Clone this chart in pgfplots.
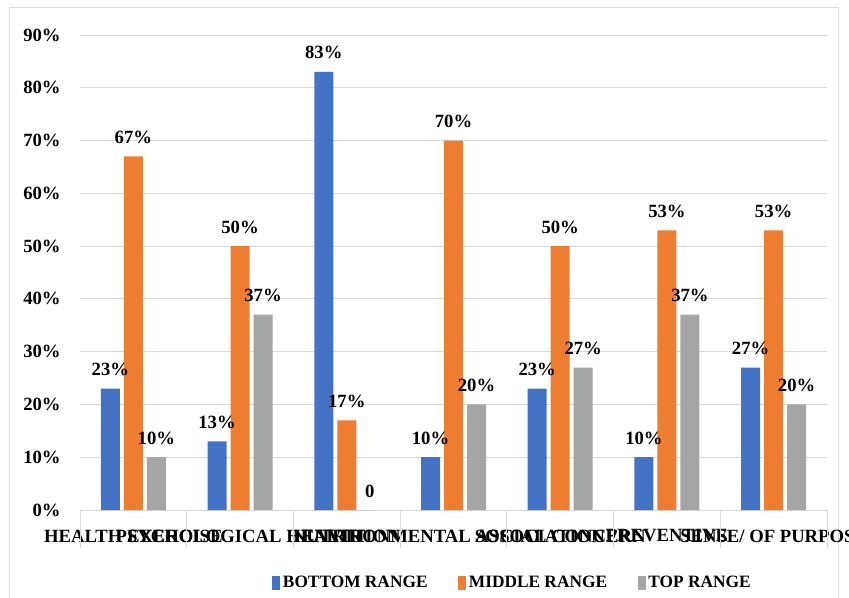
\documentclass[border=0pt]{standalone}
\usepackage{pgfplots}
\pgfplotsset{compat=1.18}
\usepackage{fontspec}
\setmainfont{Liberation Serif}
\definecolor{cblue}{HTML}{4472C4}
\definecolor{corange}{HTML}{ED7D31}
\definecolor{cgray}{HTML}{A5A5A5}
\definecolor{cgrid}{HTML}{D9D9D9}
\definecolor{cframe}{HTML}{D9D9D9}
\begin{document}
\begin{tikzpicture}
\path[use as bounding box] (0,0) rectangle (636.75pt,447.75pt);
\draw[cframe, line width=0.75pt] (6.75pt,-5pt) rectangle (628.5pt,441.75pt);
\begin{axis}[
  at={(60pt,65.25pt)}, anchor=south west,
  scale only axis, width=560.25pt, height=356.25pt,
  xmin=-0.5, xmax=6.5, ymin=0, ymax=90,
  ybar=3pt, bar width=14.25pt,
  separate axis lines,
  axis x line*=bottom, axis y line*=left,
  x axis line style={draw=cgrid, line width=0.75pt},
  y axis line style={draw=none},
  ymajorgrids, grid style={draw=cgrid, line width=0.75pt},
  ytick={0,10,...,90},
  yticklabels={0\%,10\%,20\%,30\%,40\%,50\%,60\%,70\%,80\%,90\%},
  ytick style={draw=none},
  yticklabel style={font=\bfseries\fontsize{14}{16}\selectfont, xshift=-11pt},
  xtick={0,...,6},
  xtick style={draw=none},
  xticklabels={HEALTH EXERCISE, PSYCHOLOGICAL HEALTH, NUTRITION, ENVIRONMENTAL ASSOCIATION, SOCIAL CONCERN, PREVENTIVE, SENSE/ OF PURPOSE},
  xticklabel style={font=\bfseries\fontsize{14}{16}\selectfont, yshift=-7pt},
  extra x ticks={-0.5,0.5,...,6.5},
  extra x tick labels={},
  extra x tick style={major tick length=28.5pt, tick align=outside, xtick style={draw=cgrid, line width=0.75pt}, grid=none},
  point meta=explicit symbolic,
  nodes near coords,
  every node near coord/.append style={font=\bfseries\fontsize{14}{16}\selectfont, black, yshift=6pt},
  legend style={at={(0.2517,-0.1537)}, anchor=west, draw=none, fill=none,
    legend columns=3, font=\bfseries\fontsize{13}{15}\selectfont,
    /tikz/every even column/.append style={column sep=21pt}},
  legend image code/.code={\fill[#1] (0pt,-5pt) rectangle (6pt,5pt);},
]
\addplot[draw=none, fill=cblue] coordinates {(0,23) [23\%] (1,13) [13\%] (2,83) [83\%] (3,10) [10\%] (4,23) [23\%] (5,10) [10\%] (6,27) [27\%]};
\addplot[draw=none, fill=corange] coordinates {(0,67) [67\%] (1,50) [50\%] (2,17) [17\%] (3,70) [70\%] (4,50) [50\%] (5,53) [53\%] (6,53) [53\%]};
\addplot[draw=none, fill=cgray] coordinates {(0,10) [10\%] (1,37) [37\%] (2,0) [0] (3,20) [20\%] (4,27) [27\%] (5,37) [37\%] (6,20) [20\%]};
\legend{BOTTOM RANGE, MIDDLE RANGE, TOP RANGE}
\end{axis}
\end{tikzpicture}
\end{document}
